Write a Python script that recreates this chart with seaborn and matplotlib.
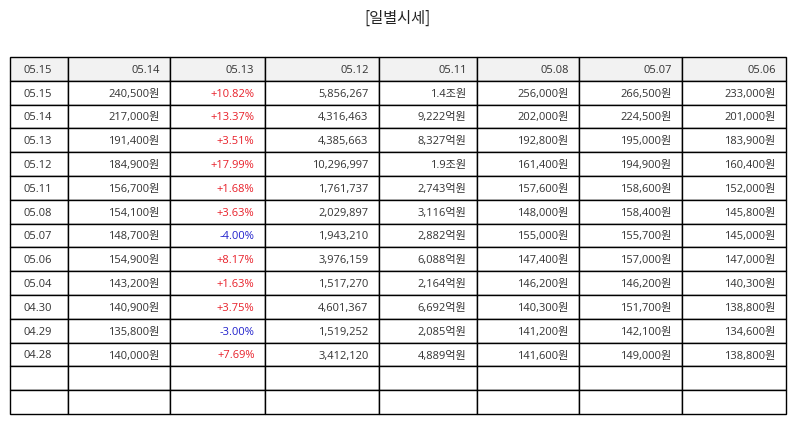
import matplotlib
matplotlib.use("Agg")
import matplotlib.pyplot as plt
import seaborn as sns

# daily quote table data
header = ["05.15", "05.14", "05.13", "05.12", "05.11", "05.08", "05.07", "05.06"]
dates = ["05.15", "05.14", "05.13", "05.12", "05.11", "05.08",
         "05.07", "05.06", "05.04", "04.30", "04.29", "04.28"]
close = [240500, 217000, 191400, 184900, 156700, 154100,
         148700, 154900, 143200, 140900, 135800, 140000]
change_pct = [10.82, 13.37, 3.51, 17.99, 1.68, 3.63,
              -4.00, 8.17, 1.63, 3.75, -3.00, 7.69]
volume = [5856267, 4316463, 4385663, 10296997, 1761737, 2029897,
          1943210, 3976159, 1517270, 4601367, 1519252, 3412120]
trade_value = ["1.4조원", "9,222억원", "8,327억원", "1.9조원", "2,743억원", "3,116억원",
               "2,882억원", "6,088억원", "2,164억원", "6,692억원", "2,085억원", "4,889억원"]
open_price = [256000, 202000, 192800, 161400, 157600, 148000,
              155000, 147400, 146200, 140300, 141200, 141600]
high_price = [266500, 224500, 195000, 194900, 158600, 158400,
              155700, 157000, 146200, 151700, 142100, 149000]
low_price = [233000, 201000, 183900, 160400, 152000, 145800,
             145000, 147000, 140300, 138800, 134600, 138800]
n_blank = 2

sns.set_theme(style="white")
plt.rcParams["font.family"] = ["Open Sans", "Noto Sans CJK KR", "DejaVu Sans"]

won = lambda v: f"{v:,}원"
rows = []
for i in range(len(dates)):
    rows.append([dates[i], won(close[i]), f"{change_pct[i]:+.2f}%", f"{volume[i]:,}",
                 trade_value[i], won(open_price[i]), won(high_price[i]), won(low_price[i])])
rows += [[""] * len(header) for _ in range(n_blank)]

col_px = [58, 102, 95, 114, 98, 102, 103, 104]
total = sum(col_px)
col_w = [w / total for w in col_px]

fig = plt.figure(figsize=(7.94, 4.25), dpi=100)
ax = fig.add_axes([0, 0, 1, 1])
ax.set_axis_off()

left, right = 10 / 794, 786 / 794
top, bottom = 1 - 57 / 425, 1 - 414 / 425
tbl = ax.table(cellText=rows, colLabels=header, colWidths=col_w,
               bbox=[left, bottom, right - left, top - bottom])
tbl.auto_set_font_size(False)
tbl.set_fontsize(8)

for (r, c), cell in tbl.get_celld().items():
    cell.set_edgecolor("black")
    cell.set_linewidth(1.0)
    if c == 0:
        cell.PAD = 14 / col_px[0]
        cell._loc = "left"
    else:
        cell.PAD = 10.5 / col_px[c]
        cell._loc = "right"
    txt = cell.get_text()
    txt.set_ha(cell._loc)
    txt.set_va("center_baseline")
    txt.set_color("#333333")
    if r == 0:
        cell.set_facecolor("#f2f2f2")
    else:
        cell.set_facecolor("white")
        if c == 2 and r - 1 < len(change_pct):
            txt.set_color("#e8202a" if change_pct[r - 1] > 0 else "#2222cc")

fig.text(0.5, 1 - 18 / 425, "[일별시세]", ha="center", va="center", fontsize=11,
         family=["Noto Sans CJK KR", "DejaVu Sans"], color="#222222")

fig.savefig("out.png", dpi=100)
